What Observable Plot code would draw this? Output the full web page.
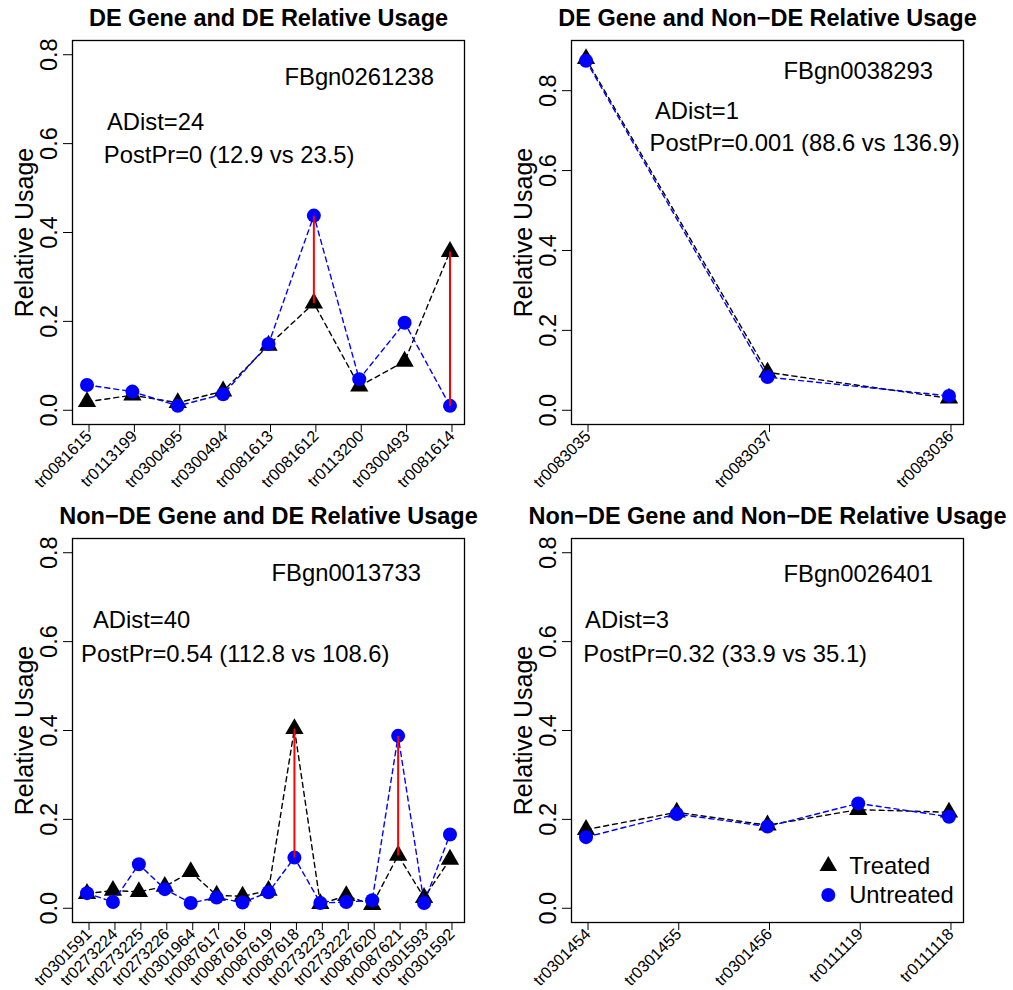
<!DOCTYPE html>
<html><head><meta charset="utf-8">
<script src="https://cdn.jsdelivr.net/npm/d3@7"></script>
<script src="https://cdn.jsdelivr.net/npm/@observablehq/plot@0.6"></script>
<style>
body{margin:0;background:#fff}
#wrap{position:relative;width:1013px;height:990px;overflow:hidden;background:#fff}
.panel{position:absolute}
</style>
</head><body><div id="wrap"></div>
<script>
// ---- data ----
const titles = ["DE Gene and DE Relative Usage", "DE Gene and Non\u2212DE Relative Usage",
                "Non\u2212DE Gene and DE Relative Usage", "Non\u2212DE Gene and Non\u2212DE Relative Usage"];
const genes = ["FBgn0261238", "FBgn0038293", "FBgn0013733", "FBgn0026401"];
const adists = ["ADist=24", "ADist=1", "ADist=40", "ADist=3"];
const postprs = ["PostPr=0 (12.9 vs 23.5)", "PostPr=0.001 (88.6 vs 136.9)",
                 "PostPr=0.54 (112.8 vs 108.6)", "PostPr=0.32 (33.9 vs 35.1)"];

const p1Labels = ["tr0081615","tr0113199","tr0300495","tr0300494","tr0081613","tr0081612","tr0113200","tr0300493","tr0081614"];
const p1Treated = [0.019,0.034,0.017,0.043,0.146,0.241,0.054,0.110,0.357];
const p1Untreated = [0.057,0.042,0.010,0.036,0.149,0.438,0.070,0.197,0.010];
const p1Diff = ["tr0081612","tr0081614"];

const p2Labels = ["tr0083035","tr0083037","tr0083036"];
const p2Treated = [0.880,0.095,0.030];
const p2Untreated = [0.875,0.083,0.036];
const p2Diff = [];

const p3Labels = ["tr0301591","tr0273224","tr0273225","tr0273226","tr0301964","tr0087617","tr0087616","tr0087619","tr0087618","tr0273223","tr0273222","tr0087620","tr0087621","tr0301593","tr0301592"];
const p3Treated = [0.033,0.040,0.037,0.049,0.082,0.029,0.027,0.040,0.404,0.010,0.028,0.008,0.119,0.024,0.110];
const p3Untreated = [0.034,0.014,0.099,0.043,0.012,0.024,0.013,0.036,0.114,0.012,0.014,0.018,0.388,0.012,0.166];
const p3Diff = ["tr0087618","tr0087621"];

const p4Labels = ["tr0301454","tr0301455","tr0301456","tr0111119","tr0111118"];
const p4Treated = [0.177,0.216,0.187,0.222,0.216];
const p4Untreated = [0.160,0.212,0.184,0.236,0.206];
const p4Diff = [];

const yTicks = [0, 0.2, 0.4, 0.6, 0.8];
const legendLabels = ["Treated", "Untreated"];

// ---- drawing ----
const FONT = "'Liberation Sans', Arial, Helvetica, sans-serif";
const BLUE = "#0000ff";
const TXT = 23.8;

function panel(k, labels, treated, untreated, diff, yMax, pos, legend) {
  const n = labels.length;
  const ext = 0.04 * (n - 1);
  const rows = labels.map((l, i) => ({i: i + 1, label: l, t: treated[i], u: untreated[i]}));
  const segs = rows.filter(r => diff.includes(r.label));
  const marks = [
    Plot.axisX({ticks: d3.range(1, n + 1), tickFormat: i => labels[i - 1], tickRotate: -45,
                fontSize: 16.2, tickSize: 8, tickPadding: 1, dx: 2, label: null}),
    Plot.axisY({ticks: yTicks, tickFormat: d3.format(".1f"), tickRotate: -90,
                fontSize: 23.5, tickSize: 9, tickPadding: 7, label: null}),
    Plot.axisY({ticks: [], label: "Relative Usage", labelAnchor: "center", labelArrow: "none",
                labelOffset: 57, fontSize: 25}),
    Plot.line(rows, {x: "i", y: "t", stroke: "black", strokeDasharray: "5,4", strokeWidth: 1.4}),
    Plot.dot(rows, {x: "i", y: "t", symbol: "triangle", r: 6.8, fill: "black", stroke: "none"}),
    Plot.line(rows, {x: "i", y: "u", stroke: BLUE, strokeDasharray: "5,4", strokeWidth: 1.4}),
    Plot.dot(rows, {x: "i", y: "u", symbol: "circle", r: 7, fill: BLUE, stroke: "none"}),
    Plot.link(segs, {x1: "i", x2: "i", y1: "u", y2: "t", stroke: "#ff0000", strokeWidth: 2}),
    Plot.frame({stroke: "black", strokeWidth: 1.3}),
    Plot.text([titles[k]], {text: d => d, frameAnchor: "top", dy: -15, lineAnchor: "bottom",
                fontWeight: "bold", fontSize: 23.5}),
    Plot.text([genes[k]], {text: d => d, x: () => pos.gene[0], y: () => pos.gene[1], fontSize: TXT}),
    Plot.text([adists[k]], {text: d => d, x: () => pos.adist[0], y: () => pos.adist[1], textAnchor: "start", fontSize: TXT}),
    Plot.text([postprs[k]], {text: d => d, x: () => pos.post[0], y: () => pos.post[1], textAnchor: "start", fontSize: TXT})
  ];
  if (legend) {
    const lg = legendLabels.map((l, j) => ({label: l, j}));
    marks.push(
      Plot.dot(lg, {x: () => legend.sx, y: d => legend.ys[d.j], symbol: d => d.j === 0 ? "triangle" : "circle",
                    r: d => d.j === 0 ? 6.5 : 7, fill: d => d.j === 0 ? "black" : BLUE, stroke: "none"}),
      Plot.text(lg, {text: "label", x: () => legend.tx, y: d => legend.ys[d.j], textAnchor: "start", fontSize: TXT})
    );
  }
  return Plot.plot({
    width: 506, height: 491,
    marginLeft: 72, marginRight: 42, marginTop: 40, marginBottom: 67,
    style: {fontFamily: FONT, background: "transparent", color: "black", overflow: "visible"},
    x: {type: "linear", domain: [1 - ext, n + ext]},
    y: {domain: [-0.04 * yMax, 1.04 * yMax]},
    symbol: {type: "identity"},
    r: {type: "identity"},
    marks
  });
}

const wrap = document.getElementById("wrap");
const specs = [
  [0, p1Labels, p1Treated, p1Untreated, p1Diff, 0.8, {gene: [7, 0.75], adist: [1.44, 0.648], post: [1.37, 0.574]}, null, 0, 0],
  [1, p2Labels, p2Treated, p2Untreated, p2Diff, 0.89, {gene: [2.5, 0.848], adist: [1.38, 0.748], post: [1.35, 0.668]}, null, 499, 0],
  [2, p3Labels, p3Treated, p3Untreated, p3Diff, 0.8, {gene: [11, 0.753], adist: [1.23, 0.648], post: [0.77, 0.571]}, null, 0, 498],
  [3, p4Labels, p4Treated, p4Untreated, p4Diff, 0.8, {gene: [4.0, 0.752], adist: [0.99, 0.648], post: [0.97, 0.571]},
     {sx: 3.67, tx: 3.9, ys: [0.095, 0.03]}, 499, 498]
];
for (const s of specs) {
  const svg = panel(s[0], s[1], s[2], s[3], s[4], s[5], s[6], s[7]);
  const div = document.createElement("div");
  div.className = "panel";
  div.style.left = s[8] + "px";
  div.style.top = s[9] + "px";
  div.appendChild(svg);
  wrap.appendChild(div);
}
</script>
</body></html>
